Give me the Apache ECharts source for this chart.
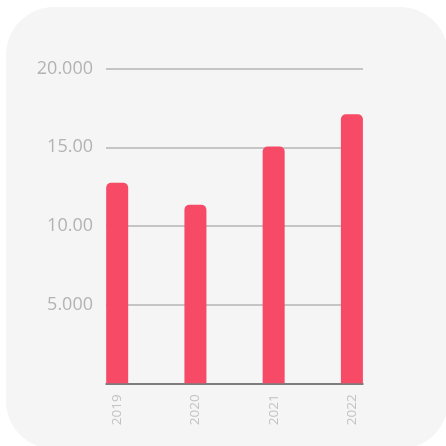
<!DOCTYPE html>
<html>
<head>
<meta charset="utf-8">
<style>
html,body{margin:0;padding:0;background:#ffffff;}
#c{width:446px;height:446px;}
</style>
<script src="https://cdn.jsdelivr.net/npm/echarts@6/dist/echarts.min.js"></script>
</head>
<body>
<div id="c"></div>
<script>
var categories = ['2019', '2020', '2021', '2022'];
var values = [12750, 11350, 15050, 17100];
var yTickValues = [0, 5000, 10000, 15000, 20000];
var yTickLabels = ['', '5.000', '10.00', '15.00', '20.000'];

var chart = echarts.init(document.getElementById('c'), null, {renderer: 'canvas'});
var barData = values.map(function (v, i) { return [i, v]; });

chart.setOption({
  animation: false,
  backgroundColor: '#ffffff',
  graphic: [{
    type: 'rect',
    z: -10,
    silent: true,
    shape: {x: 6, y: 7, width: 442, height: 442, r: 48},
    style: {fill: '#f5f5f5'}
  }],
  grid: {left: 106, right: 83, top: 68.7, bottom: 62.7, containLabel: false},
  xAxis: {
    type: 'value',
    min: -0.143,
    max: 3.142,
    splitLine: {show: false},
    axisTick: {show: false},
    axisLine: {show: true, onZero: false, lineStyle: {color: '#666666', width: 1.5}},
    axisLabel: {
      customValues: [0, 1, 2, 3],
      rotate: 90,
      margin: 11,
      color: '#c2c2c2',
      fontSize: 13.5,
      fontFamily: 'Open Sans',
      formatter: function (v) { return categories[Math.round(v)] || ''; }
    }
  },
  yAxis: {
    type: 'value',
    min: 0,
    max: 20000,
    interval: 5000,
    axisLine: {show: false},
    axisTick: {show: false},
    splitLine: {show: true, lineStyle: {color: '#b4b4b4', width: 1.5}},
    axisLabel: {
      margin: 13,
      color: '#b3b3b3',
      fontSize: 18,
      fontFamily: 'Open Sans',
      padding: [4, 0, 0, 0],
      formatter: function (v) {
        var i = yTickValues.indexOf(v);
        return i >= 0 ? yTickLabels[i] : '';
      }
    }
  },
  series: [{
    type: 'bar',
    data: barData,
    barWidth: 22,
    itemStyle: {color: '#f64a66', borderRadius: [5, 5, 0, 0]}
  }]
});
</script>
</body>
</html>
